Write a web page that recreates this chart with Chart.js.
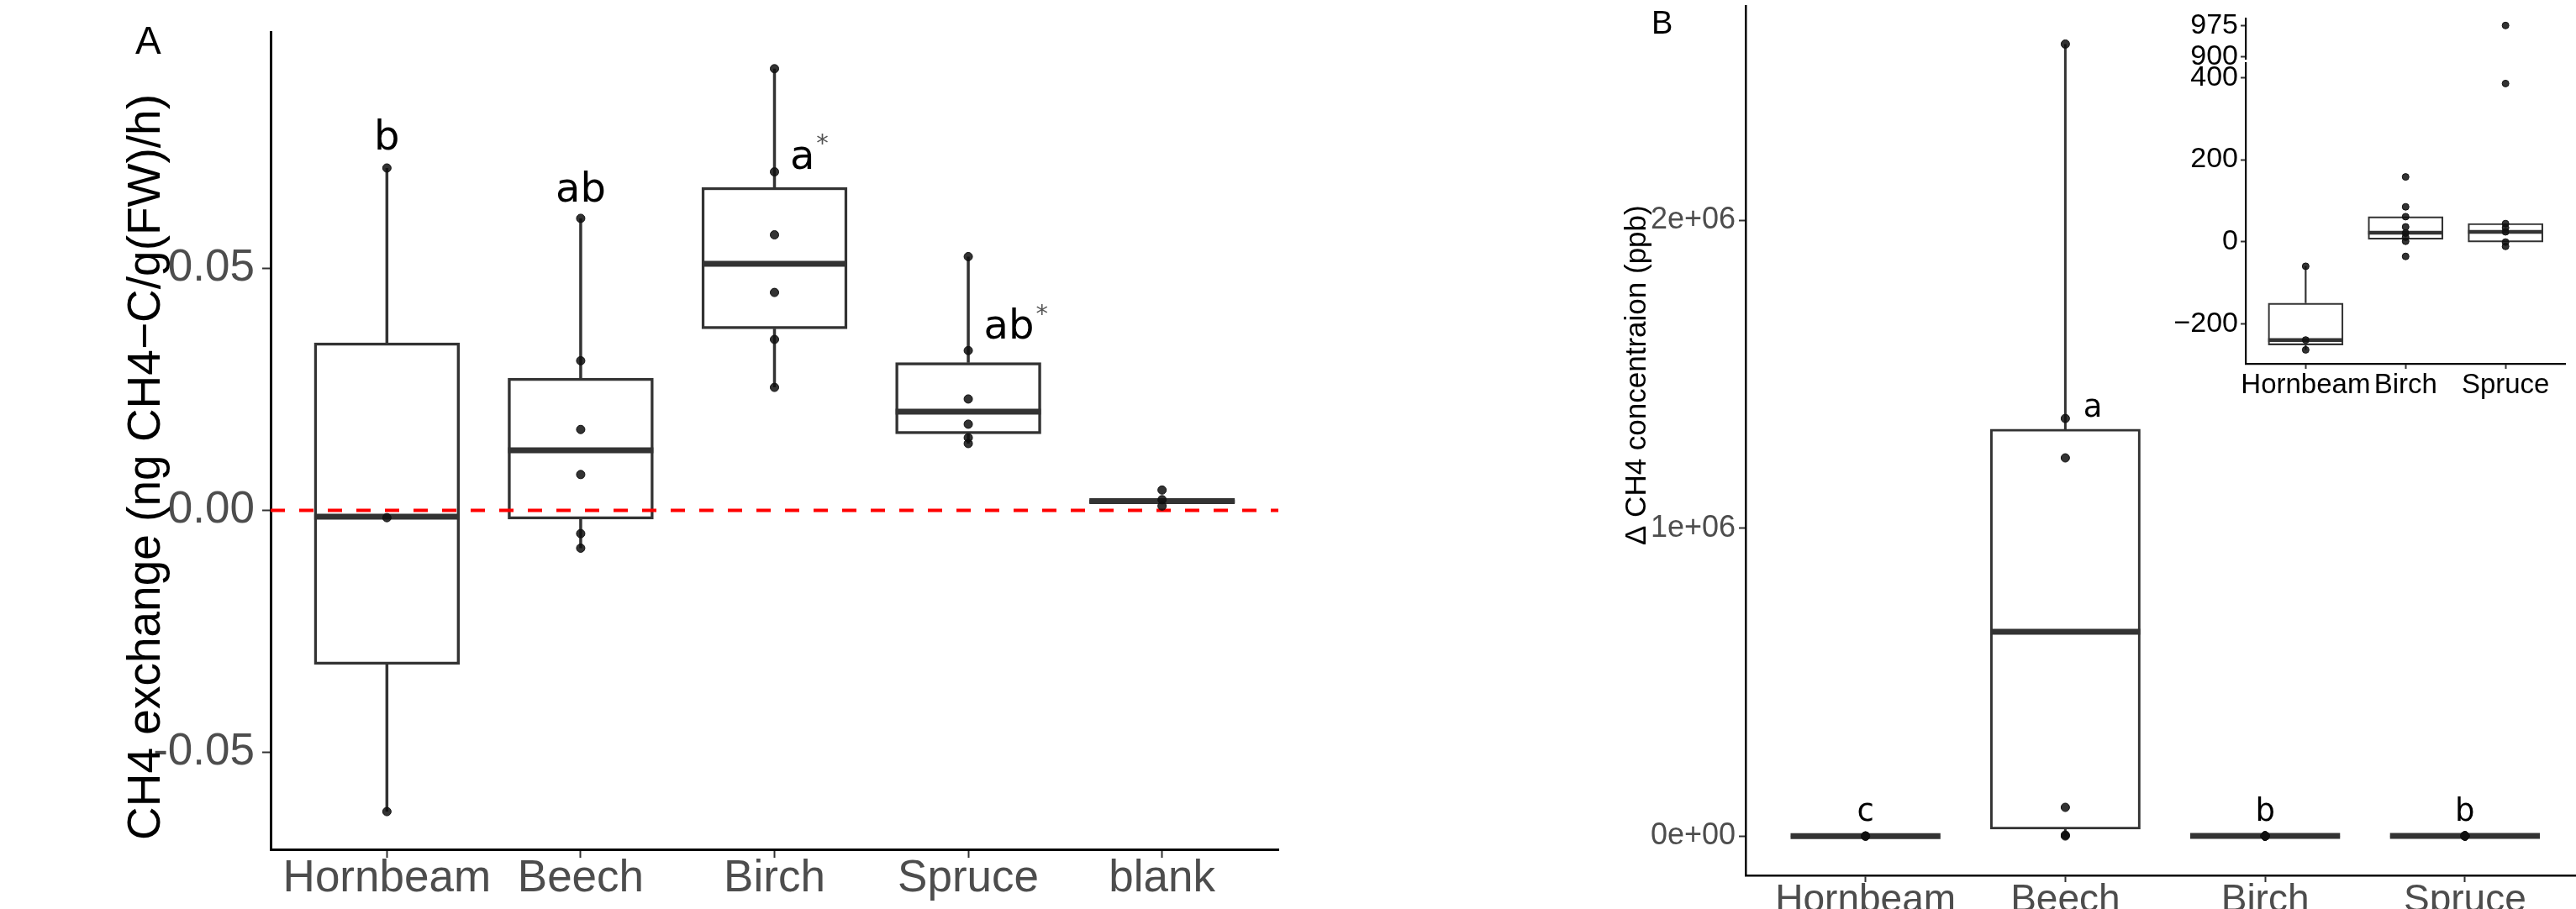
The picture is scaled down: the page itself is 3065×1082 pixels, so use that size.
<!DOCTYPE html>
<html>
<head>
<meta charset="utf-8">
<script src="https://cdn.jsdelivr.net/npm/chart.js@4.4.1/dist/chart.umd.min.js"></script>
<style>
    html, body { margin: 0; padding: 0; background: #fff; width: 3065px; height: 1082px; overflow: hidden; }
    canvas { position: absolute; top: 0; }
</style>
</head>
<body>
<canvas id="chartA" width="1560" height="1082" style="left:0px"></canvas>
<canvas id="chartB" width="1220" height="1140" style="left:1880px"></canvas>
<canvas id="insetLow" width="505" height="500" style="left:2560px"></canvas>
<canvas id="insetHigh" width="505" height="160" style="left:2560px"></canvas>
<script>
// ---- Panel A: CH4 exchange (ng CH4-C/g(FW)/h) ----
const speciesA = ['Hornbeam', 'Beech', 'Birch', 'Spruce', 'blank'];
const q1A  = [-0.0318, -0.0018, 0.0375, 0.0158, 0.0015];
const medA = [-0.0013,  0.0124, 0.0509, 0.0204, 0.0019];
const q3A  = [ 0.0346,  0.0273, 0.0667, 0.0305, 0.0022];
const loA  = [-0.0622, -0.0078, 0.0254, 0.0138, 0.0015];
const hiA  = [ 0.0707,  0.0603, 0.0912, 0.0524, 0.0022];
const obsA = [
    [0.0707, -0.0015, -0.0622],
    [0.0603, 0.0309, 0.0167, 0.0074, -0.0048, -0.0078],
    [0.0912, 0.0699, 0.0569, 0.0450, 0.0353, 0.0254],
    [0.0524, 0.0330, 0.0230, 0.0178, 0.0150, 0.0138],
    [0.0042, 0.0022, 0.0009]
];
const tickValsA = [-0.05, 0, 0.05];
const tickLabsA = ['-0.05', '0.00', '0.05'];
const lettersA = ['b', 'ab', 'a*', 'ab*', ''];
const letterAtA = [[0, 0.0745], [1, 0.0637], [2.08, 0.0706], [3.08, 0.0355], null];

// ---- Inset: delta CH4 for the three low species (ppb) ----
const speciesIn = ['Hornbeam', 'Birch', 'Spruce'];
const q1In  = [-252, 5.5, -1.2];
const medIn = [-240, 22, 24];
const q3In  = [-150, 61, 44.5];
const loIn  = [-264, 5.5, -1.2];
const hiIn  = [-60, 61, 44.5];
const obsIn = [
    [-60, -240, -264],
    [158, 85, 61, 36, 21, 11, 1, -36],
    [975, 386, 44, 34, 24, -1, -11.5]
];
const tickValsInLow = [-200, 0, 200, 400];
const tickLabsInLow = ['\u2212200', '0', '200', '400'];
const tickValsInHigh = [900, 975];
const tickLabsInHigh = ['900', '975'];

// ---- Panel B: delta CH4 concentration (ppb) ----
const speciesB = ['Hornbeam', 'Beech', 'Birch', 'Spruce'];
const q1B  = [q1In[0], 22000, q1In[1], q1In[2]];
const medB = [medIn[0], 663000, medIn[1], medIn[2]];
const q3B  = [q3In[0], 1321000, q3In[1], q3In[2]];
const loB  = [loIn[0], 0, loIn[1], loIn[2]];
const hiB  = [hiIn[0], 2572000, hiIn[1], hiIn[2]];
const obsB = [obsIn[0], [2572000, 1356000, 1228000, 93000, 3000, 0], obsIn[1], obsIn[2]];
const tickValsB = [0, 1000000, 2000000];
const tickLabsB = ['0e+00', '1e+06', '2e+06'];
const lettersB = ['c', 'a', 'b', 'b'];
const letterAtB = [[0, 50000], [1.09, 1363000], [2, 50000], [3, 50000]];

const SANS = '"Liberation Sans", Arial, sans-serif';
const DEJA = '"DejaVu Sans", sans-serif';
const INK = '#333333';

// builds the datasets of one box plot panel
function boxDatasets(q1, med, q3, lo, hi, obs, st) {
    const whiskers = [];
    const meds = [];
    const boxes = [];
    const pts = [];
    q1.forEach(function(_, i) {
        whiskers.push({x: i, y: q3[i]}, {x: i, y: hi[i]}, {x: i, y: null});
        whiskers.push({x: i, y: lo[i]}, {x: i, y: q1[i]}, {x: i, y: null});
        meds.push({x: i, y: med[i]});
        boxes.push({x: i, y: [q1[i], q3[i]]});
        obs[i].forEach(v => pts.push({x: i, y: v}));
    });
    return [
        {
            type: 'scatter', data: pts, order: 0,
            pointRadius: st.dot, pointBackgroundColor: 'rgba(15,15,15,0.85)',
            pointBorderColor: '#111', pointBorderWidth: 1
        },
        {
            type: 'scatter', data: meds, order: 2,
            pointStyle: 'line', pointRadius: st.box / 2,
            pointBorderColor: INK, pointBorderWidth: st.medW
        },
        {
            type: 'bar', data: boxes, order: 3,
            backgroundColor: '#ffffff', borderColor: INK, borderWidth: st.boxW,
            borderSkipped: false, barThickness: st.box
        },
        {
            type: 'line', data: whiskers, order: 4,
            borderColor: INK, borderWidth: st.whW, pointRadius: 0, spanGaps: false
        }
    ];
}

// the plot area is fixed by layout padding, so scales must not ask for extra room
function noScalePadding(s) {
    s.paddingTop = 0;
    s.paddingBottom = 0;
    s.paddingLeft = 0;
    s.paddingRight = 0;
}

function xAxis(cats, st) {
    return {
        type: 'linear', min: -0.6, max: cats.length - 0.4, offset: false,
        display: st.xH > 0,
        afterBuildTicks: s => { s.ticks = cats.map((c, i) => ({value: i})); },
        afterFit: s => { s.height = st.xH; noScalePadding(s); },
        ticks: {
            callback: v => cats[v], autoSkip: false, maxRotation: 0,
            font: {family: SANS, size: st.xFont}, color: st.labColor, padding: st.xPad
        },
        grid: {offset: false, drawOnChartArea: false, tickLength: st.tick, tickColor: INK, tickWidth: st.tickW},
        border: {color: '#000', width: st.axisW}
    };
}

function yAxis(vals, labs, min, max, st) {
    return {
        type: 'linear', min: min, max: max,
        afterBuildTicks: s => { s.ticks = vals.map(v => ({value: v})); },
        afterFit: s => { s.width = st.yW; noScalePadding(s); },
        ticks: {
            callback: (v, i) => labs[i],
            font: {family: SANS, size: st.yFont}, color: st.labColor, padding: st.yPad
        },
        grid: {drawOnChartArea: false, tickLength: st.tick, tickColor: INK, tickWidth: st.tickW},
        border: {color: '#000', width: st.axisW}
    };
}

// draws a significance letter, with a small raised star when it ends in '*'
function drawLetter(ctx, text, px, py, size, align) {
    const star = text.endsWith('*');
    const base = star ? text.slice(0, -1) : text;
    ctx.font = size + 'px ' + DEJA;
    ctx.fillStyle = '#000';
    ctx.textAlign = align;
    ctx.textBaseline = 'alphabetic';
    ctx.fillText(base, px, py);
    if (star) {
        const w = ctx.measureText(base).width;
        const sx = align === 'center' ? px + w / 2 : px + w;
        ctx.font = Math.round(size * 0.6) + 'px ' + DEJA;
        ctx.fillStyle = '#555';
        ctx.textAlign = 'left';
        ctx.fillText('*', sx + 2, py - size * 0.42);
    }
}

function textPlugin(draw) {
    return {
        id: 'panelText',
        afterDraw: function(chart) {
            const ctx = chart.ctx;
            ctx.save();
            draw(chart, ctx);
            ctx.restore();
        }
    };
}

function baseOptions(pad, scales) {
    return {
        responsive: false,
        animation: false,
        events: [],
        layout: {padding: pad, autoPadding: false},
        plugins: {legend: {display: false}, tooltip: {enabled: false}},
        scales: scales
    };
}

// box width follows ggplot: 0.75 of one category step, axis expanded by 0.6 each side
function boxWidth(l, r, n) {
    return 0.75 * (r - l) / (n - 1 + 1.2);
}

// ---------------- Panel A ----------------
try {
    const st = {
        dot: 5, medW: 7, boxW: 3.5, whW: 3.5, box: boxWidth(322, 1521, speciesA.length),
        xH: 62, xFont: 53, xPad: -6, yW: 322, yFont: 53, yPad: 9,
        tick: 10, tickW: 2, axisW: 3, labColor: '#4d4d4d'
    };
    const ds = boxDatasets(q1A, medA, q3A, loA, hiA, obsA, st);
    ds.push({
        type: 'line', order: 1,
        data: [{x: -0.6, y: 0}, {x: speciesA.length - 0.4, y: 0}],
        borderColor: '#ff0000', borderWidth: 4, borderDash: [17, 17], pointRadius: 0
    });
    new Chart(document.getElementById('chartA'), {
        type: 'bar',
        data: {datasets: ds},
        options: baseOptions({left: 0, top: 38, right: 39, bottom: 1082 - 1011 - 62}, {
            x: xAxis(speciesA, st),
            y: yAxis(tickValsA, tickLabsA, -0.0700, 0.0988, st)
        }),
        plugins: [textPlugin(function(chart, ctx) {
            const {x, y} = chart.scales;
            lettersA.forEach(function(t, i) {
                if (!t) return;
                const at = letterAtA[i];
                drawLetter(ctx, t, x.getPixelForValue(at[0]), y.getPixelForValue(at[1]), 48,
                    Number.isInteger(at[0]) ? 'center' : 'left');
            });
            ctx.fillStyle = '#000';
            ctx.font = '46px ' + SANS;
            ctx.textAlign = 'left';
            ctx.fillText('A', 161, 64);
            ctx.translate(190, 1000);
            ctx.rotate(-Math.PI / 2);
            ctx.font = '55px ' + SANS;
            ctx.fillText('CH4 exchange (ng CH4\u2212C/g(FW)/h)', 0, 0);
        })]
    });
} catch (error) {
    console.error('Error initializing panel A:', error);
}

// ---------------- Panel B ----------------
try {
    const st = {
        dot: 5, medW: 7, boxW: 3, whW: 3, box: boxWidth(197, 1195.5, speciesB.length),
        xH: 70, xFont: 46, xPad: -5, yW: 197, yFont: 36, yPad: 4,
        tick: 8, tickW: 2, axisW: 2.5, labColor: '#4d4d4d'
    };
    new Chart(document.getElementById('chartB'), {
        type: 'bar',
        data: {datasets: boxDatasets(q1B, medB, q3B, loB, hiB, obsB, st)},
        options: baseOptions({left: 0, top: 7, right: 1220 - 1195.5, bottom: 1140 - 1042 - 70}, {
            x: xAxis(speciesB, st),
            y: yAxis(tickValsB, tickLabsB, -128000, 2696000, st)
        }),
        plugins: [textPlugin(function(chart, ctx) {
            const {x, y} = chart.scales;
            lettersB.forEach(function(t, i) {
                const at = letterAtB[i];
                drawLetter(ctx, t, x.getPixelForValue(at[0]), y.getPixelForValue(at[1]), 37,
                    Number.isInteger(at[0]) ? 'center' : 'left');
            });
            ctx.fillStyle = '#000';
            ctx.font = '38px ' + SANS;
            ctx.textAlign = 'left';
            ctx.fillText('B', 85, 40);
            ctx.translate(78, 649);
            ctx.rotate(-Math.PI / 2);
            ctx.font = '35px ' + SANS;
            ctx.fillText('\u0394 CH4 concentraion (ppb)', 0, 0);
        })]
    });
} catch (error) {
    console.error('Error initializing panel B:', error);
}

// ---------------- Inset (broken y axis: two stacked charts) ----------------
try {
    const st = {
        dot: 4, medW: 4.5, boxW: 2.2, whW: 2.2, box: boxWidth(112, 492.5, speciesIn.length),
        xH: 50, xFont: 33, xPad: 0, yW: 112, yFont: 34, yPad: 3,
        tick: 6, tickW: 2, axisW: 2.2, labColor: '#000'
    };
    new Chart(document.getElementById('insetLow'), {
        type: 'bar',
        data: {datasets: boxDatasets(q1In, medIn, q3In, loIn, hiIn, obsIn, st)},
        options: baseOptions({left: 0, top: 75.5, right: 505 - 492.5, bottom: 500 - 433 - 50}, {
            x: xAxis(speciesIn, st),
            y: yAxis(tickValsInLow, tickLabsInLow, -298, 435, st)
        })
    });
    // upper strip of the broken axis: only the large Spruce value lands here
    const hiSt = Object.assign({}, st, {xH: 0});
    const upper = boxDatasets(q1In, medIn, q3In, loIn, hiIn, obsIn, hiSt).slice(0, 1);
    new Chart(document.getElementById('insetHigh'), {
        type: 'bar',
        data: {datasets: upper},
        options: baseOptions({left: 0, top: 22, right: 505 - 492.5, bottom: 160 - 70.6}, {
            x: xAxis(speciesIn, hiSt),
            y: yAxis(tickValsInHigh, tickLabsInHigh, 893, 992, hiSt)
        })
    });
} catch (error) {
    console.error('Error initializing inset:', error);
}
</script>
</body>
</html>
